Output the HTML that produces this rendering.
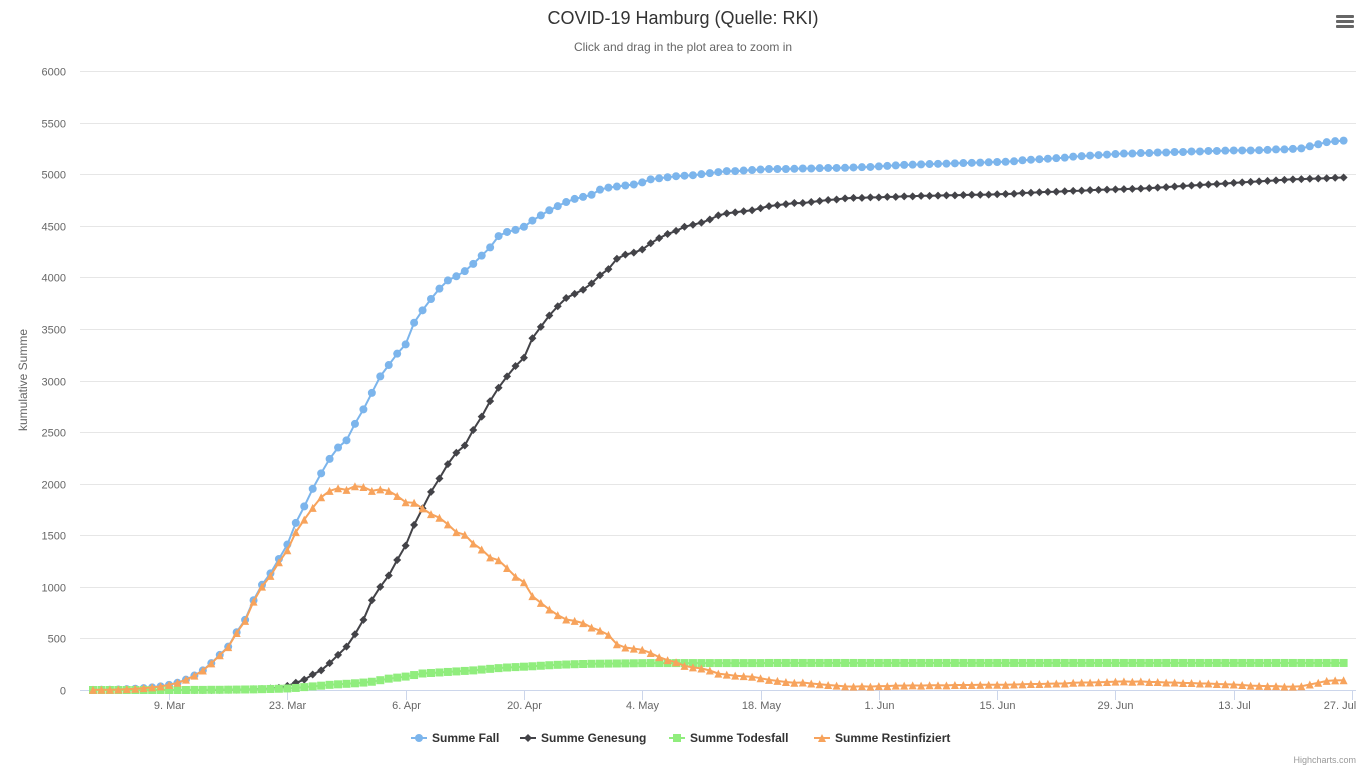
<!DOCTYPE html>
<html><head><meta charset="utf-8">
<style>
html,body{margin:0;padding:0;background:#fff;}
svg{display:block;font-family:"Liberation Sans",sans-serif;}
</style></head>
<body>
<svg id="chart" width="1366" height="768">
  <text x="683" y="24" text-anchor="middle" font-size="18" fill="#333">COVID-19 Hamburg (Quelle: RKI)</text>
  <text x="683" y="51" text-anchor="middle" font-size="12" fill="#666">Click and drag in the plot area to zoom in</text>
  <g>
    <rect x="1336" y="15" width="18" height="3" rx="1" fill="#666"/>
    <rect x="1336" y="20" width="18" height="3" rx="1" fill="#666"/>
    <rect x="1336" y="25" width="18" height="3" rx="1" fill="#666"/>
  </g>
  <text x="27" y="380" text-anchor="middle" font-size="12" fill="#666" transform="rotate(-90 27 380)">kumulative Summe</text>
  <g id="grid"></g>
  <g id="xaxis"></g>
  <g id="series"></g>
  <g id="legend"></g>
  <text x="1356" y="763" text-anchor="end" font-size="9" fill="#999">Highcharts.com</text>
</svg>
<script>
const yTicks = [0,500,1000,1500,2000,2500,3000,3500,4000,4500,5000,5500,6000];
const xTickIdx = [9,23,37,51,65,79,93,107,121,135,149];
const xTickLabels = ["9. Mar","23. Mar","6. Apr","20. Apr","4. May","18. May","1. Jun","15. Jun","29. Jun","13. Jul","27. Jul"];
const fall = [1,2,3,5,8,12,18,25,35,50,70,100,140,190,260,340,420,560,680,870,1020,1130,1270,1410,1620,1780,1950,2100,2240,2350,2420,2580,2720,2880,3040,3150,3260,3350,3560,3680,3790,3890,3970,4010,4060,4130,4210,4290,4400,4440,4460,4490,4550,4600,4650,4690,4730,4760,4780,4800,4850,4870,4880,4890,4900,4920,4950,4960,4970,4980,4985,4990,5000,5010,5020,5030,5030,5035,5040,5045,5050,5050,5050,5052,5055,5055,5058,5060,5060,5062,5065,5068,5070,5075,5080,5085,5090,5092,5095,5098,5100,5102,5105,5108,5110,5112,5115,5118,5120,5125,5135,5140,5145,5150,5155,5160,5170,5175,5180,5185,5190,5195,5200,5200,5205,5205,5210,5210,5215,5215,5220,5220,5225,5225,5228,5230,5230,5230,5232,5235,5240,5240,5245,5250,5270,5290,5310,5320,5325];
const genesung = [0,0,0,0,0,0,0,0,0,0,0,0,0,0,0,1,2,3,5,7,10,14,20,40,70,100,150,190,260,340,420,540,680,870,1000,1110,1260,1400,1600,1760,1920,2050,2190,2300,2370,2520,2650,2800,2930,3040,3140,3220,3410,3520,3630,3720,3800,3840,3880,3940,4020,4080,4180,4220,4240,4270,4330,4380,4420,4450,4490,4510,4530,4560,4600,4620,4630,4640,4650,4670,4690,4700,4710,4720,4720,4730,4740,4750,4755,4765,4770,4770,4775,4775,4780,4780,4785,4785,4790,4790,4792,4795,4795,4798,4800,4800,4802,4805,4808,4810,4818,4820,4825,4828,4830,4835,4838,4840,4845,4848,4850,4852,4855,4858,4860,4865,4870,4875,4880,4885,4890,4895,4900,4905,4910,4915,4920,4925,4930,4935,4940,4945,4950,4952,4955,4958,4960,4965,4968];
const todesfall = [0,0,0,0,0,0,0,0,0,0,0,0,1,1,2,2,3,4,5,6,8,10,12,15,20,28,35,42,50,55,60,65,72,80,95,110,120,130,145,160,165,170,175,180,185,190,198,205,212,218,222,226,230,235,240,244,247,250,252,254,255,256,257,258,259,260,261,261,261,261,261,261,261,261,261,261,261,261,261,261,262,262,262,262,262,262,262,262,262,262,262,262,262,262,262,262,262,262,262,262,262,262,262,262,262,262,262,262,262,262,262,262,262,262,262,262,262,262,262,262,262,262,262,262,262,262,262,262,262,262,262,262,262,262,262,262,262,262,262,262,262,262,262,262,262,262,262,262,262];
const restinfiziert = [1,2,3,5,8,12,18,25,35,50,70,100,139,189,258,337,416,553,670,857,1002,1106,1238,1355,1530,1652,1765,1868,1930,1955,1940,1975,1968,1930,1945,1930,1880,1820,1815,1760,1705,1670,1605,1530,1505,1420,1362,1285,1258,1182,1098,1044,910,845,780,726,683,670,648,606,575,534,443,412,401,390,359,319,289,269,234,219,209,189,159,149,139,134,129,114,98,88,78,70,73,63,56,48,43,35,33,36,33,38,38,43,43,45,43,46,46,45,48,48,48,50,51,51,50,53,55,58,58,60,63,63,70,73,73,75,78,81,83,80,83,78,78,73,73,68,68,63,63,58,56,53,48,43,40,38,38,33,33,36,53,70,88,93,95];

const NS = "http://www.w3.org/2000/svg";
const L = 80, R = 1356, T = 71, B = 690, X0 = 93, DX = 8.45;
const yMax = 6000;
function xs(i){ return X0 + i*DX; }
function ys(v){ return B - v/yMax*(B-T); }
function mk(tag, attrs, parent){ const e = document.createElementNS(NS, tag); for (const k in attrs) e.setAttribute(k, attrs[k]); parent.appendChild(e); return e; }

const grid = document.getElementById('grid');
yTicks.forEach(v => {
  const y = Math.round(ys(v)) + 0.5;
  if (v > 0) {
    const ln = mk('line', {x1:L, x2:R, y1:y, y2:y, stroke:'#e6e6e6', 'stroke-width':1}, grid);
    
    
  }
  const t = mk('text', {x:66, y:y+4, 'text-anchor':'end', 'font-size':11, fill:'#666'}, grid);
  t.textContent = v;
  
  
});
const xa = document.getElementById('xaxis');
const axl = mk('line', {x1:L, x2:R, y1:B+0.5, y2:B+0.5, stroke:'#ccd6eb', 'stroke-width':1}, xa);


xTickIdx.forEach((idx, k) => {
  const x = Math.round(xs(idx)) + 0.5;
  const tk = mk('line', {x1:x, x2:x, y1:B, y2:B+10, stroke:'#ccd6eb', 'stroke-width':1}, xa);
  
  
  const lx = Math.min(x, 1340);
  const t = mk('text', {x:lx, y:B+19, 'text-anchor':'middle', 'font-size':11, fill:'#666'}, xa);
  t.textContent = xTickLabels[k];
  
  
});

function marker(g, type, x, y, color){
  let e;
  if (type === 'circle') e = mk('circle', {cx:x, cy:y, r:4, fill:color}, g);
  else if (type === 'diamond') e = mk('path', {d:`M${x} ${y-4}L${x+4} ${y}L${x} ${y+4}L${x-4} ${y}Z`, fill:color}, g);
  else if (type === 'square') e = mk('rect', {x:x-4, y:y-4, width:8, height:8, fill:color}, g);
  else e = mk('path', {d:`M${x} ${y-4}L${x+4} ${y+4}L${x-4} ${y+4}Z`, fill:color}, g);
  return e;
}
const seriesDefs = [
  {name:'Summe Fall', key:'series-fall', data:fall, color:'#7cb5ec', type:'circle'},
  {name:'Summe Genesung', key:'series-genesung', data:genesung, color:'#434348', type:'diamond'},
  {name:'Summe Todesfall', key:'series-todesfall', data:todesfall, color:'#90ed7d', type:'square'},
  {name:'Summe Restinfiziert', key:'series-restinfiziert', data:restinfiziert, color:'#f7a35c', type:'triangle'}
];
const sg = document.getElementById('series');
seriesDefs.forEach(s => {
  const g = mk('g', {}, sg);
  
  
  const d = s.data.map((v,i) => (i ? 'L' : 'M') + xs(i).toFixed(1) + ' ' + ys(v).toFixed(1)).join('');
  const p = mk('path', {d:d, fill:'none', stroke:s.color, 'stroke-width':2}, g);
  
  
  s.data.forEach((v,i) => {
    const m = marker(g, s.type, xs(i), ys(v), s.color);
    
    
  });
});

const lg = document.getElementById('legend');
const legendX = [411, 520, 669, 814];
seriesDefs.forEach((s, k) => {
  const g = mk('g', {}, lg);
  
  
  const x = legendX[k], y = 738;
  mk('line', {x1:x, x2:x+16, y1:y, y2:y, stroke:s.color, 'stroke-width':2}, g);
  marker(g, s.type, x+8, y, s.color);
  const t = mk('text', {x:x+21, y:y+4, 'font-size':12, 'font-weight':'bold', fill:'#333'}, g);
  t.textContent = s.name;
});
</script>
</body></html>
